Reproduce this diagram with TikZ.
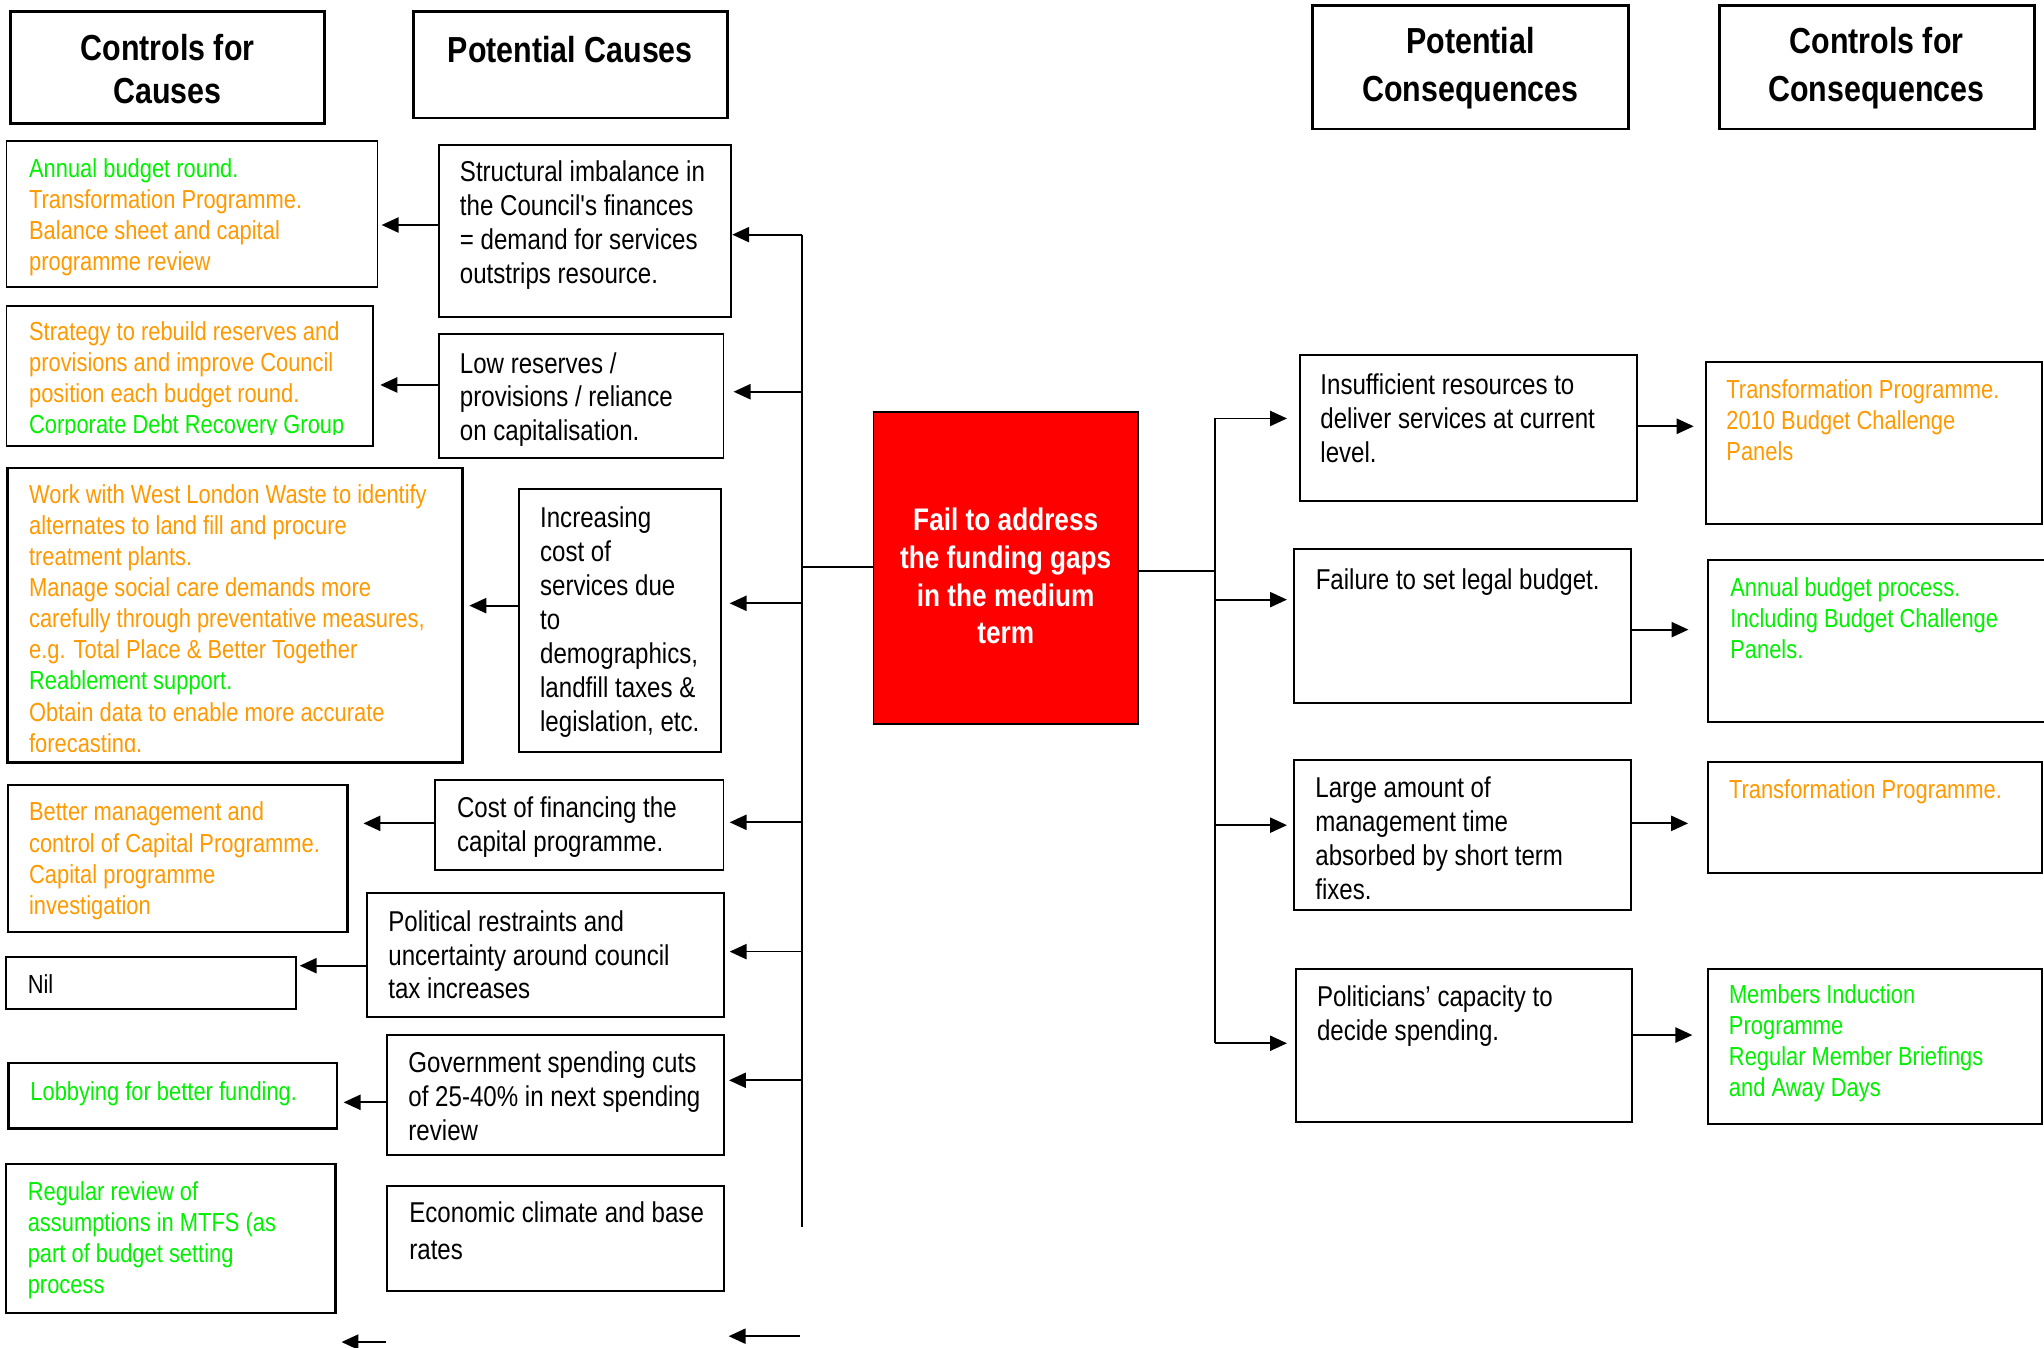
\documentclass[tikz,border=0pt]{standalone}
\usepackage{fontspec}
\newfontfamily\nf[FakeStretch=0.84]{Liberation Sans}
\usetikzlibrary{fit,arrows.meta}
\definecolor{org}{RGB}{255,153,0}
\definecolor{grn}{RGB}{0,240,0}
\tikzset{
  bx/.style={draw, line width=0.9pt, inner sep=0pt},
  hd/.style={draw, line width=1.3pt, inner sep=0pt},
  ct/.style={inner sep=0pt, anchor=north west, align=left, font=\nf\fontsize{13.2}{15.6}\selectfont},
  kt/.style={inner sep=0pt, anchor=north west, align=left, font=\nf\fontsize{12}{14.28}\selectfont},
  ht/.style={inner sep=0pt, anchor=north, align=center, font=\nf\bfseries\fontsize{16.66}{19.8}\selectfont},
  ln/.style={line width=0.8pt},
  arr/.style={line width=0.8pt, -{Triangle[length=7.8pt,width=7pt]}},
}
\begin{document}
\begin{tikzpicture}[x=0.6pt,y=-0.6pt]
\fill[white] (0,0) rectangle (1568,1034);
\useasboundingbox (0,0) rectangle (1568,1034);

% headers
\node[hd, fit={(8,9) (249,95)}] (h1) {};
\node[ht] (h1t) at (128.5,22.7) {\strut Controls for\\Causes};
\node[hd, fit={(317,9) (558,90.5)}] (h2) {};
\node[ht] (h2t) at (437.5,24.5) {\strut Potential Causes};
\node[hd, fit={(1007,4.5) (1249.5,99)}] (h3) {};
\node[ht, font=\nf\bfseries\fontsize{16.66}{22.2}\selectfont] (h3t) at (1128,14.8) {\strut Potential\\Consequences};
\node[hd, fit={(1319,4.5) (1560.5,99)}] (h4) {};
\node[ht, font=\nf\bfseries\fontsize{16.66}{22.2}\selectfont] (h4t) at (1439.5,14.8) {\strut Controls for\\Consequences};

% potential causes
\node[bx, fit={(337,111) (561,243)}] (p1) {};
\node[ct] (p1t) at (352.5,120.8) {\strut Structural imbalance in\\the Council's finances\\= demand for services\\outstrips resource.};
\node[bx, fit={(337,256) (555,351.5)}] (p2) {};
\node[ct] (p2t) at (352.5,267.6) {\strut Low reserves /\\provisions / reliance\\on capitalisation.};
\node[bx, fit={(398,375.4) (553,576.5)}] (p3) {};
\node[ct] (p3t) at (414,386.4) {\strut Increasing\\cost of\\services due\\to\\demographics,\\landfill taxes \&\\legislation, etc.};
\node[bx, fit={(334,598.4) (555,667.6)}] (p4) {};
\node[ct] (p4t) at (350.3,608.8) {\strut Cost of financing the\\capital programme.};
\node[bx, fit={(281.6,685) (555.5,780)}] (p5) {};
\node[ct] (p5t) at (297.6,695.8) {\strut Political restraints and\\uncertainty around council\\tax increases};
\node[bx, fit={(296.8,793.7) (555.5,886)}] (p6) {};
\node[ct] (p6t) at (313,804.5) {\strut Government spending cuts\\of 25-40\% in next spending\\review};
\node[bx, fit={(296.8,910) (555.5,990)}] (p7) {};
\node[ct, font=\nf\fontsize{13.2}{17}\selectfont] (p7t) at (313.7,917.9) {\strut Economic climate and base\\rates};

% controls for causes
\node[bx, fit={(5,108.4) (289.6,220)}] (c1) {};
\node[kt] (c1t) at (22,118.8) {\strut\textcolor{grn}{Annual budget round.}\\\textcolor{org}{Transformation Programme.}\\\textcolor{org}{Balance sheet and capital}\\\textcolor{org}{programme review}};
\node[bx, fit={(5,234.5) (286,342)}] (c2) {};
\begin{scope}
\clip (5,234.5) rectangle (286,333);
\node[kt] (c2t) at (22,244.2) {\strut\textcolor{org}{Strategy to rebuild reserves and}\\\textcolor{org}{provisions and improve Council}\\\textcolor{org}{position each budget round.}\\\textcolor{grn}{Corporate Debt Recovery Group}};
\end{scope}
\node[bx, line width=1.3pt, fit={(6,359) (355,585)}] (c3) {};
\begin{scope}
\clip (6,359) rectangle (355,576.6);
\node[kt] (c3t) at (22,369.5) {\strut\textcolor{org}{Work with West London Waste to identify}\\\textcolor{org}{alternates to land fill and procure}\\\textcolor{org}{treatment plants.}\\\textcolor{org}{Manage social care demands more}\\\textcolor{org}{carefully through preventative measures,}\\\textcolor{org}{e.g. Total Place \& Better Together}\\\textcolor{grn}{Reablement support.}\\\textcolor{org}{Obtain data to enable more accurate}\\\textcolor{org}{forecasting.}};
\end{scope}
\node[bx, line width=1.1pt, fit={(6,602.4) (266.5,715)}] (c4) {};
\node[kt] (c4t) at (22,612.8) {\strut\textcolor{org}{Better management and}\\\textcolor{org}{control of Capital Programme.}\\\textcolor{org}{Capital programme}\\\textcolor{org}{investigation}};
\node[bx, line width=1.1pt, fit={(4.8,734) (227,774)}] (c5) {};
\node[kt] (c5t) at (21,744.8) {\strut Nil};
\node[bx, line width=1.1pt, fit={(6.4,815.5) (258.7,865.8)}] (c6) {};
\node[kt] (c6t) at (23,827.2) {\strut\textcolor{grn}{Lobbying for better funding.}};
\node[bx, line width=1.1pt, fit={(4.8,893) (257.4,1007)}] (c7) {};
\node[kt] (c7t) at (21,903.8) {\strut\textcolor{grn}{Regular review of}\\\textcolor{grn}{assumptions in MTFS (as}\\\textcolor{grn}{part of budget setting}\\\textcolor{grn}{process}};

% central risk
\node[draw, line width=0.6pt, fill=red, inner sep=0pt, fit={(670,316) (873,555.5)}] (risk) {};
\node[inner sep=0pt, anchor=north, align=center, text=white, font=\nf\bfseries\fontsize{14.36}{17.4}\selectfont] (riskt) at (771.5,386.3) {\strut Fail to address\\the funding gaps\\in the medium\\term};

% potential consequences
\node[bx, fit={(997,272.5) (1255.5,384)}] (r1) {};
\node[ct] (r1t) at (1012.6,284.4) {\strut Insufficient resources to\\deliver services at current\\level.};
\node[bx, fit={(993,421.5) (1251,539)}] (r2) {};
\node[ct] (r2t) at (1009,433.8) {\strut Failure to set legal budget.};
\node[bx, fit={(992.5,583) (1251,698)}] (r3) {};
\node[ct] (r3t) at (1008.7,593.5) {\strut Large amount of\\management time\\absorbed by short term\\fixes.};
\node[bx, fit={(994,743) (1252,861)}] (r4) {};
\node[ct] (r4t) at (1010,753.8) {\strut Politicians’ capacity to\\decide spending.};

% controls for consequences
\node[bx, fit={(1308.6,277.5) (1566.5,402)}] (k1) {};
\node[kt] (k1t) at (1324,288.8) {\strut\textcolor{org}{Transformation Programme.}\\\textcolor{org}{2010 Budget Challenge}\\\textcolor{org}{Panels}};
\node[bx, fit={(1310.4,429.5) (1572,554)}] (k2) {};
\node[kt] (k2t) at (1327,440.8) {\strut\textcolor{grn}{Annual budget process.}\\\textcolor{grn}{Including Budget Challenge}\\\textcolor{grn}{Panels.}};
\node[bx, fit={(1310,584.8) (1566.5,669.5)}] (k3) {};
\node[kt] (k3t) at (1326,595.8) {\strut\textcolor{org}{Transformation Programme.}};
\node[bx, fit={(1310,743) (1566.5,862.5)}] (k4) {};
\node[kt] (k4t) at (1326,752.8) {\strut\textcolor{grn}{Members Induction}\\\textcolor{grn}{Programme}\\\textcolor{grn}{Regular Member Briefings}\\\textcolor{grn}{and Away Days}};

% left trunk
\coordinate (ttop) at (615,180);
\coordinate (tbot) at (615,941);
\coordinate (t2) at (615,300.5);
\coordinate (t3) at (615,462.8);
\coordinate (t4) at (615,630.8);
\coordinate (t5) at (615,730);
\coordinate (t6) at (615,828.7);
\coordinate (tm) at (615,435);
\draw[ln] (ttop) -- (tbot);
\draw[arr] (ttop) -- (ttop -| p1.east);
\draw[arr, shorten >=7pt*0.6] (t2) -- (t2 -| p2.east);
\draw[arr, shorten >=6pt*0.6] (t3) -- (t3 -| p3.east);
\draw[arr, shorten >=4pt*0.6] (t4) -- (t4 -| p4.east);
\draw[arr, shorten >=3.5pt*0.6] (t5) -- (t5 -| p5.east);
\draw[arr, shorten >=3pt*0.6] (t6) -- (t6 -| p6.east);
\draw[ln] (tm) -- (tm -| risk.west);

% causes to controls
\coordinate (a1) at (0,172.6);
\coordinate (a2) at (0,295.3);
\coordinate (a3) at (0,464.6);
\coordinate (a4) at (0,631.6);
\coordinate (a5) at (0,740.8);
\coordinate (a6) at (0,845.6);
\draw[arr, shorten >=2.4pt*0.6] (p1.west |- a1) -- (c1.east |- a1);
\draw[arr, shorten >=5pt*0.6] (p2.west |- a2) -- (c2.east |- a2);
\draw[arr, shorten >=4pt*0.6] (p3.west |- a3) -- (c3.east |- a3);
\draw[arr, shorten >=11.4pt*0.6] (p4.west |- a4) -- (c4.east |- a4);
\draw[arr, shorten >=2pt*0.6] (p5.west |- a5) -- (c5.east |- a5);
\draw[arr, shorten >=4pt*0.6] (p6.west |- a6) -- (c6.east |- a6);

% loose arrows at the bottom
\coordinate (fa) at (614,1025);
\coordinate (fb) at (559,1025);
\coordinate (fc) at (296,1029.5);
\coordinate (fd) at (262,1029.5);
\draw[arr] (fa) -- (fb);
\draw[arr] (fc) -- (fd);

% right trunk
\coordinate (rm) at (932,438);
\coordinate (rtop) at (932,321);
\coordinate (r2c) at (932,460);
\coordinate (r3c) at (932,633);
\coordinate (rbot) at (932,800.3);
\draw[ln] (rm -| risk.east) -- (rm);
\draw[ln] (rtop) -- (rbot);
\draw[arr, shorten >=9pt*0.6] (rtop) -- (rtop -| r1.west);
\draw[arr, shorten >=5pt*0.6] (r2c) -- (r2c -| r2.west);
\draw[arr, shorten >=4.5pt*0.6] (r3c) -- (r3c -| r3.west);
\draw[arr, shorten >=6pt*0.6] (rbot) -- (rbot -| r4.west);

% consequences to controls
\coordinate (b1) at (0,327);
\coordinate (b2) at (0,483);
\coordinate (b3) at (0,631.6);
\coordinate (b4) at (0,794);
\draw[arr, shorten >=8.6pt*0.6] (r1.east |- b1) -- (k1.west |- b1);
\draw[arr, shorten >=14.4pt*0.6] (r2.east |- b2) -- (k2.west |- b2);
\draw[arr, shorten >=14.3pt*0.6] (r3.east |- b3) -- (k3.west |- b3);
\draw[arr, shorten >=11pt*0.6] (r4.east |- b4) -- (k4.west |- b4);
\end{tikzpicture}
\end{document}
